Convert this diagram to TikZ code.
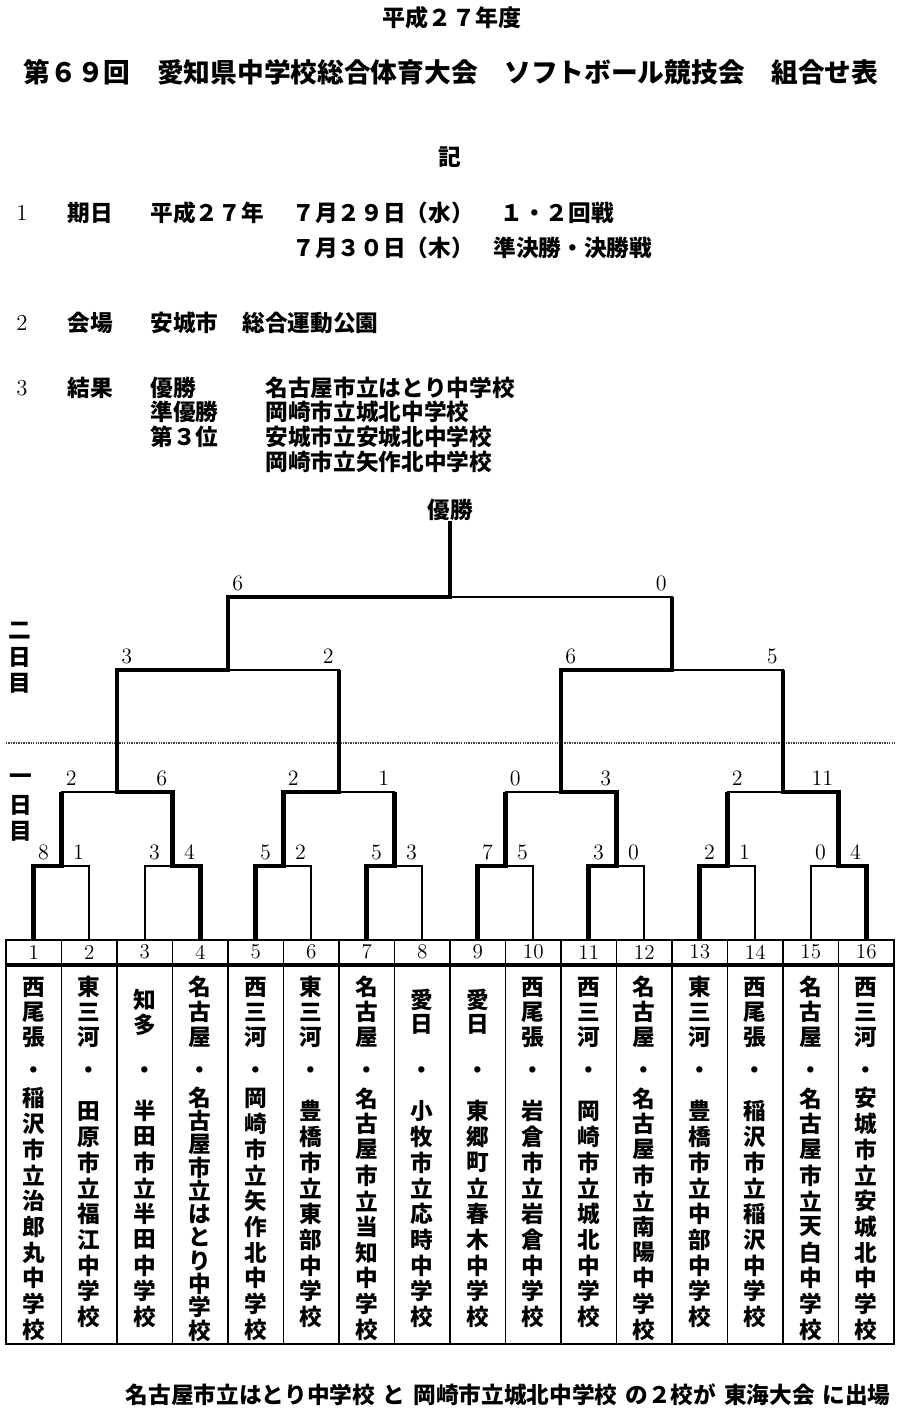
\documentclass[tikz,border=0pt]{standalone}
\usepackage{fontspec}
\usepackage{tikz}
\usetikzlibrary{calc}
\newfontfamily\jp{Noto Sans CJK JP}

\tikzset{
  win/.style={line width=2.6pt},
  lose/.style={line width=1pt},
  jptext/.style={font=\jp\bfseries\fontsize{12.9}{15}\selectfont, inner sep=0pt, anchor=west},
  tatechar/.style={font=\jp\bfseries\fontsize{12.9}{15}\selectfont, inner sep=0pt},
  score/.style={font=\fontsize{12.5}{14}\selectfont, inner sep=0pt},
  numcell/.style={draw, line width=1.1pt, minimum width=1.11cm, minimum height=0.48cm, inner sep=0pt, font=\fontsize{12}{13}\selectfont},
  namecell/.style={draw, line width=1.1pt, minimum width=1.11cm, minimum height=7.56cm, inner sep=0pt, anchor=north},
  daysep/.style={line width=1.3pt, dash pattern=on 0.8pt off 0.6pt, black!75}
}

% vertical text: name, x, centre y, step, list of characters
\newcommand{\tate}[5]{%
  \foreach \ch [count=\nn] in #5 {\xdef\tatelen{\nn}}%
  \foreach \ch [count=\kk] in #5
    \node[tatechar] (#1-\kk) at ({#2}, {#3+(\kk-(\tatelen+1)/2)*#4}) {\ch};%
}

% scores of one match: point, left child, right child, left score, right score
\newcommand{\tokuten}[5]{%
  \node[score, anchor=base west] (#1-l) at ($(#2 |- #1)+(4,-7)$) {#4};
  \node[score, anchor=base east] (#1-r) at ($(#3 |- #1)+(-5,-7)$) {#5};
}

\begin{document}
\begin{tikzpicture}[x=0.02cm, y=-0.02cm]
  \useasboundingbox (0,0) rectangle (900,1413);

  % Title
  \node[jptext, anchor=center, font=\jp\bfseries\fontsize{13.1}{15}\selectfont] (nendo) at (452,18) {平成２７年度};
  \node[jptext, anchor=center, font=\jp\bfseries\fontsize{15.2}{18}\selectfont] (taikai) at (451,72) {第６９回　愛知県中学校総合体育大会　ソフトボール競技会　組合せ表};
  \node[jptext, anchor=center] (ki) at (450,157) {記};

  % 1 dates
  \node[score, font=\fontsize{13}{15}\selectfont] (k1) at (22,213) {1};
  \node[jptext] (kijitsu) at (67,213) {期日};
  \node[jptext] (nen) at (150,213) {平成２７年};
  \node[jptext] (day29) at (292,213) {７月２９日（水）};
  \node[jptext] (kai12) at (500,213) {１・２回戦};
  \node[jptext] (day30) at (292,248) {７月３０日（木）};
  \node[jptext] (kessho) at (493,248) {準決勝・決勝戦};

  % 2 venue
  \node[score, font=\fontsize{13}{15}\selectfont] (k2) at (22,323) {2};
  \node[jptext] (kaijo) at (67,323) {会場};
  \node[jptext] (anjo) at (150,323) {安城市};
  \node[jptext] (koen) at (242,323) {総合運動公園};

  % 3 results
  \node[score, font=\fontsize{13}{15}\selectfont] (k3) at (22,388) {3};
  \node[jptext] (kekka) at (67,388) {結果};
  \node[jptext] (yusho) at (150,388) {優勝};
  \node[jptext] (yusho-s) at (265,388) {名古屋市立はとり中学校};
  \node[jptext] (jun) at (150,412) {準優勝};
  \node[jptext] (jun-s) at (265,412) {岡崎市立城北中学校};
  \node[jptext] (san) at (150,437) {第３位};
  \node[jptext] (san-s1) at (265,437) {安城市立安城北中学校};
  \node[jptext] (san-s2) at (265,462) {岡崎市立矢作北中学校};

  % Day labels and separator
  \tate{nichime2}{20}{657}{26}{{二,日,目}}
  \tate{nichime1}{21}{805}{26}{{一,日,目}}
  \draw[daysep] (6,743) -- (896,743);

  % Table of teams
  \foreach \i/\reg/\sch/\st in {
    1/{西,尾,張}/{稲,沢,市,立,治,郎,丸,中,学,校}/25.7,
    2/{東,三,河}/{田,原,市,立,福,江,中,学,校}/25.7,
    3/{知,多}/{半,田,市,立,半,田,中,学,校}/25.7,
    4/{名,古,屋}/{名,古,屋,市,立,は,と,り,中,学,校}/23.3,
    5/{西,三,河}/{岡,崎,市,立,矢,作,北,中,学,校}/25.7,
    6/{東,三,河}/{豊,橋,市,立,東,部,中,学,校}/25.7,
    7/{名,古,屋}/{名,古,屋,市,立,当,知,中,学,校}/25.7,
    8/{愛,日}/{小,牧,市,立,応,時,中,学,校}/25.7,
    9/{愛,日}/{東,郷,町,立,春,木,中,学,校}/25.7,
    10/{西,尾,張}/{岩,倉,市,立,岩,倉,中,学,校}/25.7,
    11/{西,三,河}/{岡,崎,市,立,城,北,中,学,校}/25.7,
    12/{名,古,屋}/{名,古,屋,市,立,南,陽,中,学,校}/25.7,
    13/{東,三,河}/{豊,橋,市,立,中,部,中,学,校}/25.7,
    14/{西,尾,張}/{稲,沢,市,立,稲,沢,中,学,校}/25.7,
    15/{名,古,屋}/{名,古,屋,市,立,天,白,中,学,校}/25.7,
    16/{西,三,河}/{安,城,市,立,安,城,北,中,学,校}/25.7}{
    \pgfmathsetmacro{\cx}{33.75+55.5*(\i-1)}
    \node[numcell] (n\i) at (\cx,952) {\i};
    \node[namecell] (c\i) at (n\i.south) {};
    \tate{reg\i}{\cx}{1012}{25}{\reg}
    \node[tatechar] (dot\i) at (\cx,1073) {・};
    \tate{sch\i}{\cx}{1214}{\st}{\sch}
  }

  % Match points
  \foreach \j in {1,...,8} \coordinate (m\j) at ({61.5+111*(\j-1)},866);
  \foreach \k in {1,...,4} \coordinate (q\k) at ({117+222*(\k-1)},792);
  \coordinate (s1) at (228,670);
  \coordinate (s2) at (672,670);
  \coordinate (f) at (450,597);
  \node[jptext, anchor=center] (champ) at (450,510) {優勝};

  % Bracket, thin lines
  \foreach \j [evaluate=\j as \a using int(2*\j-1), evaluate=\j as \b using int(2*\j)] in {1,...,8}
    \draw[lose] (n\a.north) |- (m\j) -| (n\b.north);
  \foreach \k [evaluate=\k as \a using int(2*\k-1), evaluate=\k as \b using int(2*\k)] in {1,...,4}
    \draw[lose] (m\a) |- (q\k) -| (m\b);
  \draw[lose] (q1) |- (s1) -| (q2);
  \draw[lose] (q3) |- (s2) -| (q4);
  \draw[lose] (s1) |- (f) -| (s2);

  % Winning paths
  \draw[win] (n1.north) |- (m1) -- (m1 |- q1);
  \draw[win] (n4.north) |- (m2) |- (q1) |- (s1) |- (f) -- (champ.south);
  \draw[win] (n5.north) |- (m3) |- (q2) -- (q2 |- s1);
  \draw[win] (n7.north) |- (m4) -- (m4 |- q2);
  \draw[win] (n9.north) |- (m5) -- (m5 |- q3);
  \draw[win] (n11.north) |- (m6) |- (q3) |- (s2) -- (s2 |- f);
  \draw[win] (n13.north) |- (m7) -- (m7 |- q4);
  \draw[win] (n16.north) |- (m8) |- (q4) -- (q4 |- s2);

  % Scores
  \tokuten{m1}{n1.north}{n2.north}{8}{1}
  \tokuten{m2}{n3.north}{n4.north}{3}{4}
  \tokuten{m3}{n5.north}{n6.north}{5}{2}
  \tokuten{m4}{n7.north}{n8.north}{5}{3}
  \tokuten{m5}{n9.north}{n10.north}{7}{5}
  \tokuten{m6}{n11.north}{n12.north}{3}{0}
  \tokuten{m7}{n13.north}{n14.north}{2}{1}
  \tokuten{m8}{n15.north}{n16.north}{0}{4}
  \tokuten{q1}{m1}{m2}{2}{6}
  \tokuten{q2}{m3}{m4}{2}{1}
  \tokuten{q3}{m5}{m6}{0}{3}
  \tokuten{q4}{m7}{m8}{2}{11}
  \tokuten{s1}{q1}{q2}{3}{2}
  \tokuten{s2}{q3}{q4}{6}{5}
  \tokuten{f}{s1}{s2}{6}{0}

  % Footer
  \node[jptext, anchor=east] (shutsujo) at (891,1395) {名古屋市立はとり中学校\hspace{0.35em}と\hspace{0.35em}岡崎市立城北中学校\hspace{0.35em}の２校が\hspace{0.35em}東海大会\hspace{0.35em}に出場};
\end{tikzpicture}
\end{document}
